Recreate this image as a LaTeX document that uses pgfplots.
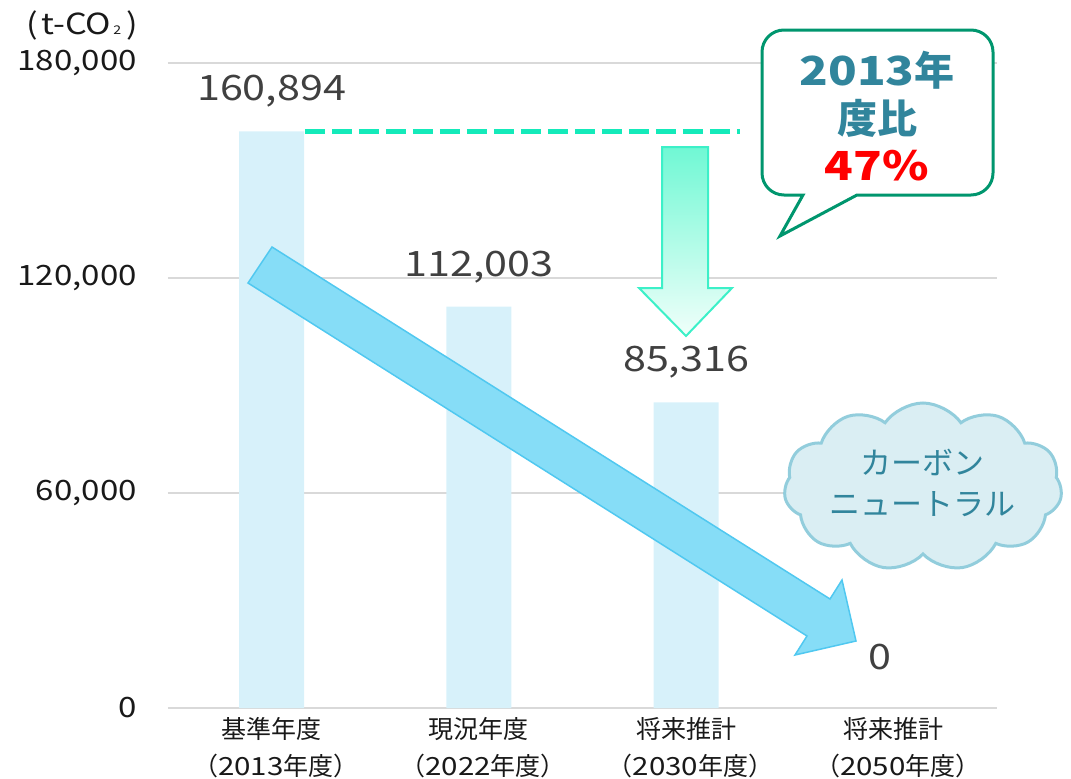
\documentclass[border=0pt]{standalone}
\usepackage{pgfplots}
\pgfplotsset{compat=1.18}
\usepackage{fontspec}
\setmainfont{Noto Sans CJK JP}[FakeStretch=1.18]
\newfontfamily\cjk{Noto Sans CJK JP}
\usetikzlibrary{shapes.symbols}
\definecolor{barc}{RGB}{215,241,250}
\definecolor{gridc}{RGB}{217,217,217}
\definecolor{labc}{RGB}{64,64,64}
\definecolor{dashc}{RGB}{20,234,186}
\definecolor{bigfill}{RGB}{134,221,247}
\definecolor{bigline}{RGB}{80,200,240}
\definecolor{downtop}{RGB}{112,248,212}
\definecolor{downbot}{RGB}{240,255,250}
\definecolor{downline}{RGB}{60,240,200}
\definecolor{bubline}{RGB}{0,150,110}
\definecolor{teal}{RGB}{49,133,156}
\definecolor{cloudfill}{RGB}{218,238,243}
\definecolor{cloudline}{RGB}{146,205,220}
\newcommand{\yr}[1]{\hspace{0.35em}{\cjk （}#1{\cjk 年度）}\hspace{0.35em}}
\begin{document}
\begin{tikzpicture}
\useasboundingbox (0,0) rectangle (1071pt,-779pt);
\begin{axis}[
  at={(168pt,-708pt)}, anchor=south west,
  scale only axis, width=829pt, height=645pt,
  xmin=-0.5, xmax=3.5, ymin=0, ymax=180000,
  clip=false,
  axis line style={draw=none},
  tick style={draw=none},
  ytick={0,60000,120000,180000},
  scaled y ticks=false,
  ymajorgrids,
  grid style={line width=1.6pt, color=gridc},
  yticklabel={\pgfmathprintnumber[fixed,precision=0,1000 sep={,},assume math mode=true]{\tick}},
  yticklabel style={font=\fontsize{28}{28}\selectfont, text=black!90, anchor=east, inner sep=0pt, xshift=-31pt},
  xtick={0,1,2,3},
  xticklabels={{{\cjk 基準年度}\\\yr{2013}},{{\cjk 現況年度}\\\yr{2022}},{{\cjk 将来推計}\\\yr{2030}},{{\cjk 将来推計}\\\yr{2050}}},
  xticklabel style={font=\fontsize{25}{37}\selectfont, align=center, anchor=north, inner sep=0pt, yshift=-9pt, text=black!90},
]
\addplot[ybar, bar width=65pt, bar shift=0pt, fill=barc, draw=none,
  nodes near coords={\pgfmathprintnumber[fixed,precision=0,1000 sep={,},assume math mode=true]{\pgfplotspointmeta}},
  every node near coord/.style={anchor=center, yshift=40pt, text=labc, font=\fontsize{35}{35}\selectfont}]
  coordinates {(0,160894) (1,112003) (2,85316)};
\addplot[ybar, bar width=65pt, bar shift=0pt, fill=none, draw=none,
  nodes near coords={\pgfmathprintnumber[fixed,precision=0,assume math mode=true]{\pgfplotspointmeta}},
  every node near coord/.style={anchor=center, xshift=-13pt, yshift=51pt, text=labc, font=\fontsize{35}{35}\selectfont}]
  coordinates {(3,0)};
\addplot[dashc, line width=5pt, dash pattern=on 20pt off 7pt, mark=none]
  coordinates {(0.16,160894) (2.26,160894)};
\end{axis}
\begin{scope}[x=1pt,y=-1pt]
% unit label
\node[anchor=east, inner sep=0pt, font=\fontsize{29}{29}\selectfont, text=black!90] at (138,25) {(\kern3pt t-CO\kern2pt{\fontsize{12}{12}\selectfont 2}\kern5pt)};
% big diagonal arrow
\draw[fill=bigfill, draw=bigline, line width=1.5pt, line join=miter]
  (272,247) -- (830,599) -- (842,580) -- (856,641) -- (795,655) -- (807,636) -- (248,283) -- cycle;
% down arrow
\draw[top color=downtop, bottom color=downbot, draw=downline, line width=2pt]
  (662,147) -- (708,147) -- (708,288) -- (732,288) -- (686,336) -- (639,288) -- (662,288) -- cycle;
% speech bubble
\draw[bubline, line width=3pt, fill=white]
  (857,195) [rounded corners=22pt] -- (993,195) -- (993,30) -- (762,30) -- (762,195) [sharp corners] -- (803,195) -- (780,236) -- cycle;
\node[text=teal, font=\bfseries\fontsize{40}{40}\selectfont, inner sep=0pt] at (877,70) {2013{\cjk 年}};
\node[text=teal, font=\bfseries\fontsize{40}{40}\selectfont, inner sep=0pt] at (877,118) {\cjk 度比};
\node[text=red, font=\bfseries\fontsize{40}{40}\selectfont, inner sep=0pt] at (877,166) {47\%};
% cloud
\node[cloud, cloud puffs=11, cloud puff arc=110, aspect=1.7, minimum width=278pt, minimum height=168pt,
  fill=cloudfill, draw=cloudline, line width=3pt] at (923,487) {};
\node[text=teal, font=\cjk\fontsize{31}{31}\selectfont, inner sep=0pt] at (922,462) {カーボン};
\node[text=teal, font=\cjk\fontsize{31}{31}\selectfont, inner sep=0pt] at (922,504) {ニュートラル};
\end{scope}
\end{tikzpicture}
\end{document}
